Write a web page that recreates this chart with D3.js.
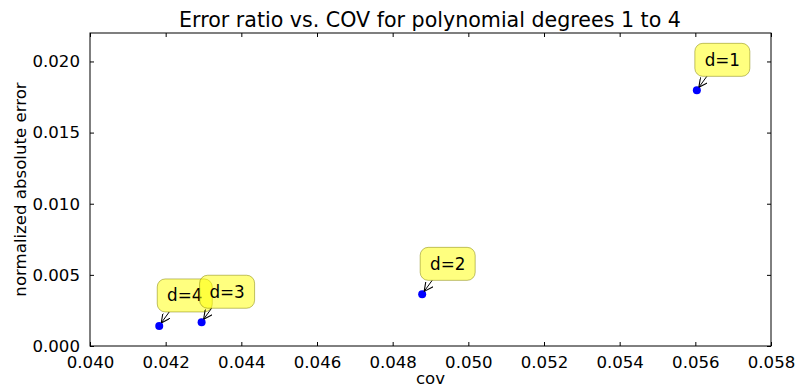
<!DOCTYPE html>
<html>
<head>
<meta charset="utf-8">
<script src="https://cdn.jsdelivr.net/npm/d3@7"></script>
<style>
  body { margin: 0; background: #fff; }
  text { font-family: "DejaVu Sans", sans-serif; }
</style>
</head>
<body>
<div id="chart"></div>
<script>
// data
var labels = ["d=1", "d=2", "d=3", "d=4"];
var covValues = [0.05604, 0.04878, 0.04295, 0.04183];
var errorValues = [0.01797, 0.00363, 0.00167, 0.00141];
var xTicks = [0.040, 0.042, 0.044, 0.046, 0.048, 0.050, 0.052, 0.054, 0.056, 0.058];
var yTicks = [0.000, 0.005, 0.010, 0.015, 0.020];

var svgWidth = 795;
var svgHeight = 387;
var margin = { top: 33, right: 24, bottom: 41, left: 90 };
var width = svgWidth - margin.left - margin.right;
var height = svgHeight - margin.top - margin.bottom;

var svg = d3.select("#chart")
  .append("svg")
  .attr("width", svgWidth)
  .attr("height", svgHeight);

var chartGroup = svg.append("g")
  .attr("transform", `translate(${margin.left}, ${margin.top})`);

var xScale = d3.scaleLinear().domain([0.040, 0.058]).range([0, width]);
var yScale = d3.scaleLinear().domain([0, 0.022]).range([height, 0]);

// axes, matplotlib classic style: ticks inside, on all four sides
function styleAxis(g) {
  g.select(".domain").remove();
  g.selectAll(".tick line").attr("stroke", "#000");
  g.selectAll(".tick text").attr("fill", "#000").style("font-size", "16.6px");
}

chartGroup.append("g")
  .attr("transform", `translate(0, ${height})`)
  .call(d3.axisBottom(xScale).tickValues(xTicks).tickFormat(d3.format(".3f")).tickSizeInner(-4).tickSizeOuter(0).tickPadding(10))
  .call(styleAxis);

chartGroup.append("g")
  .call(d3.axisTop(xScale).tickValues(xTicks).tickSizeInner(-4).tickSizeOuter(0).tickFormat(""))
  .call(styleAxis);

chartGroup.append("g")
  .call(d3.axisLeft(yScale).tickValues(yTicks).tickFormat(d3.format(".3f")).tickSizeInner(-4).tickSizeOuter(0).tickPadding(10))
  .call(styleAxis);

chartGroup.append("g")
  .attr("transform", `translate(${width}, 0)`)
  .call(d3.axisRight(yScale).tickValues(yTicks).tickSizeInner(-4).tickSizeOuter(0).tickFormat(""))
  .call(styleAxis);

chartGroup.append("rect")
  .attr("width", width)
  .attr("height", height)
  .attr("fill", "none")
  .attr("stroke", "#000")
  .attr("stroke-width", 1);

var data = labels.map(function (l, i) {
  return { label: l, cov: covValues[i], err: errorValues[i] };
});

// points
chartGroup.selectAll("circle.pt")
  .data(data)
  .enter()
  .append("circle")
  .attr("class", "pt")
  .attr("cx", d => xScale(d.cov))
  .attr("cy", d => yScale(d.err))
  .attr("r", 4)
  .attr("fill", "#0000ff");

// arrow marker
svg.append("defs").append("marker")
  .attr("id", "arr")
  .attr("viewBox", "0 0 10 10")
  .attr("refX", 10)
  .attr("refY", 5)
  .attr("markerWidth", 9)
  .attr("markerHeight", 9)
  .attr("markerUnits", "userSpaceOnUse")
  .attr("orient", "auto")
  .append("path")
  .attr("d", "M0,0 L10,5 L0,10")
  .attr("fill", "none")
  .attr("stroke", "#000")
  .attr("stroke-width", 1.2);

// annotations, drawn last label first so d=3 sits over d=4
var notes = chartGroup.selectAll("g.note")
  .data(data.slice().reverse())
  .enter()
  .append("g")
  .attr("class", "note")
  .attr("transform", d => `translate(${xScale(d.cov)}, ${yScale(d.err)})`);

notes.append("line")
  .attr("x1", 10).attr("y1", -14)
  .attr("x2", 2).attr("y2", -3)
  .attr("stroke", "#000")
  .attr("stroke-width", 1)
  .attr("marker-end", "url(#arr)");

notes.append("rect")
  .attr("x", -2)
  .attr("y", -47)
  .attr("width", 55)
  .attr("height", 33)
  .attr("rx", 8)
  .attr("fill", "#ffff00")
  .attr("fill-opacity", 0.5)
  .attr("stroke", "#7f7f00")
  .attr("stroke-opacity", 0.5)
  .attr("stroke-width", 1);

notes.append("text")
  .attr("x", 25.5)
  .attr("y", -24.5)
  .attr("text-anchor", "middle")
  .style("font-size", "16.8px")
  .text(d => d.label);

// title and axis labels
svg.append("text")
  .attr("x", 430)
  .attr("y", 27)
  .attr("text-anchor", "middle")
  .style("font-size", "20.6px")
  .text("Error ratio vs. COV for polynomial degrees 1 to 4");

svg.append("text")
  .attr("x", margin.left + width / 2)
  .attr("y", 384)
  .attr("text-anchor", "middle")
  .style("font-size", "16.6px")
  .text("cov");

svg.append("text")
  .attr("transform", `translate(26, ${margin.top + height / 2}) rotate(-90)`)
  .attr("text-anchor", "middle")
  .style("font-size", "16.6px")
  .text("normalized absolute error");
</script>
</body>
</html>
